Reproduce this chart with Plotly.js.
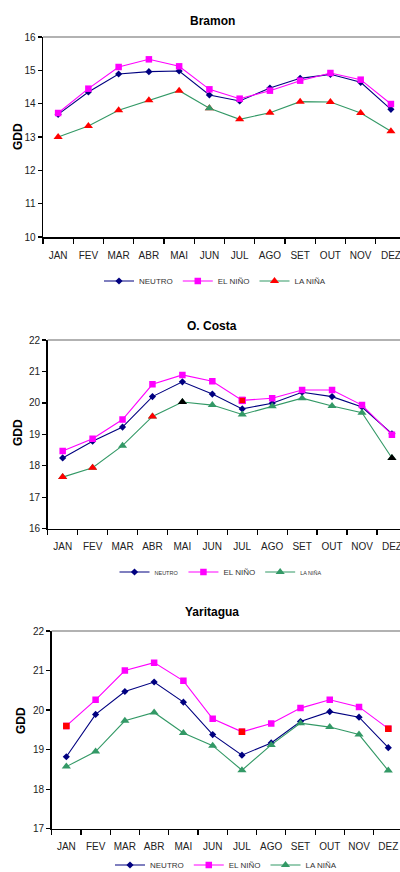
<!DOCTYPE html>
<html>
<head>
<meta charset="utf-8">
<script src="https://cdn.plot.ly/plotly-3.0.1.min.js"></script>
<style>html,body{margin:0;padding:0;background:#fff;overflow:hidden;}#chart{width:400px;height:884px;}</style>
</head>
<body>
<div id="chart"></div>
<script>
const months = ['JAN','FEV','MAR','ABR','MAI','JUN','JUL','AGO','SET','OUT','NOV','DEZ'];

const bramonNeutro = [13.68,14.35,14.89,14.96,14.98,14.26,14.08,14.47,14.76,14.88,14.64,13.83];
const bramonElNino = [13.72,14.45,15.10,15.33,15.12,14.43,14.15,14.39,14.69,14.92,14.72,13.99];
const bramonLaNina = [13.00,13.33,13.80,14.10,14.39,13.86,13.53,13.73,14.06,14.05,13.72,13.17];

const costaNeutro = [18.25,18.78,19.23,20.20,20.67,20.28,19.81,19.99,20.34,20.20,19.87,19.02];
const costaElNino = [18.47,18.86,19.47,20.59,20.89,20.69,20.08,20.15,20.41,20.41,19.93,18.99];
const costaLaNina = [17.64,17.94,18.64,19.57,20.03,19.93,19.63,19.89,20.15,19.90,19.69,18.25];

const yariNeutro = [18.82,19.89,20.47,20.71,20.20,19.38,18.86,19.17,19.71,19.96,19.82,19.05];
const yariElNino = [19.60,20.26,21.00,21.20,20.74,19.78,19.45,19.66,20.05,20.26,20.08,19.53];
const yariLaNina = [18.57,18.95,19.73,19.94,19.42,19.10,18.48,19.12,19.67,19.57,19.38,18.47];

const seriesNames = ['NEUTRO','EL NIÑO','LA NIÑA'];
const stationTitles = ['Bramon','O. Costa','Yaritagua'];

// point-level marker colour overrides (null = series colour)
const bramonLaNinaMark = [null,null,null,null,null,'#339966',null,null,null,null,null,null];
const costaElNinoMark  = [null,null,null,null,null,null,'#FF0000',null,null,null,null,null];
const costaLaNinaMark  = ['#FF0000','#FF0000',null,'#FF0000','#000000',null,null,null,null,null,null,'#000000'];
const yariElNinoMark   = ['#FF0000',null,null,null,null,null,'#FF0000',null,null,null,null,'#FF0000'];

const NAVY='#000080', MAG='#FF00FF', GREEN='#339966', RED='#FF0000';

const traces = [];
function addSeries(vals, name, ax, legend, lineColor, markerColor, symbol, size, overrideColors, lineOutline){
  traces.push({
    x: months, y: vals, name: name, type:'scatter', mode:'lines+markers',
    xaxis: 'x'+ax, yaxis: 'y'+ax, legend: legend,
    line: {color: lineColor, width: 1.1},
    marker: {symbol: symbol, size: size, color: markerColor, line:{width:0}},
    hoverinfo:'x+y'
  });
  if (overrideColors) {
    const yy = vals.map((v,i)=> overrideColors[i] ? v : null);
    const cc = overrideColors.map(c => c || markerColor);
    traces.push({
      x: months, y: yy, type:'scatter', mode:'markers', showlegend:false,
      xaxis: 'x'+ax, yaxis: 'y'+ax,
      marker: {symbol: symbol, size: size, color: cc, line:{width: lineOutline?1:0, color: lineOutline||markerColor}},
      hoverinfo:'x+y'
    });
  }
}
const small = n => '<span style="font-size:5.5px">'+n+'</span>';

addSeries(bramonNeutro, seriesNames[0], '', 'legend', NAVY, NAVY, 'diamond', 5.5);
addSeries(bramonElNino, seriesNames[1], '', 'legend', MAG, MAG, 'square', 6.5);
addSeries(bramonLaNina, seriesNames[2], '', 'legend', GREEN, RED, 'triangle-up', 8, bramonLaNinaMark);

addSeries(costaNeutro, small(seriesNames[0]), '2', 'legend2', NAVY, NAVY, 'diamond', 5.5);
addSeries(costaElNino, seriesNames[1], '2', 'legend2', MAG, MAG, 'square', 6.5, costaElNinoMark, MAG);
addSeries(costaLaNina, small(seriesNames[2]), '2', 'legend2', GREEN, GREEN, 'triangle-up', 8, costaLaNinaMark);

addSeries(yariNeutro, seriesNames[0], '3', 'legend3', NAVY, NAVY, 'diamond', 5.5);
addSeries(yariElNino, seriesNames[1], '3', 'legend3', MAG, MAG, 'square', 6.5, yariElNinoMark);
addSeries(yariLaNina, seriesNames[2], '3', 'legend3', GREEN, GREEN, 'triangle-up', 8);

const W=400, H=884;
const px = v => v/W, py = v => 1 - v/H;
const tickFont = {family:'Arial, Liberation Sans, sans-serif', size:10, color:'#222'};

function xax(left, rangeEnd, anchor){
  return {domain:[px(left),1], anchor:anchor, type:'category', range:[-0.5,rangeEnd],
    showline:true, linecolor:'#000', linewidth:1.5, ticks:'outside', ticklen:5, tickwidth:1.2, tickcolor:'#000',
    tickson:'boundaries', showgrid:false, zeroline:false, tickfont:tickFont, tickangle:0, ticklabelstandoff:8, fixedrange:true};
}
function yax(top, bottom, rng, anchor){
  return {domain:[py(bottom), py(top)], anchor:anchor, range:rng, dtick:1,
    showline:true, linecolor:'#000', linewidth:1.5, ticks:'outside', ticklen:4, tickwidth:1.2, tickcolor:'#000',
    showgrid:false, zeroline:false, tickfont:tickFont, fixedrange:true};
}
const legFont = {family:'Liberation Sans Narrow, Arial Narrow, Arial, sans-serif', size:8, color:'#333'};
function leg(cx, cy){
  return {orientation:'h', x:px(cx), y:py(cy), xanchor:'center', yanchor:'middle', font:legFont,
    bgcolor:'rgba(0,0,0,0)', itemwidth:30, tracegroupgap:0, traceorder:'normal'};
}
const titleFont = {family:'Arial, Liberation Sans, sans-serif', size:12, color:'#000', weight:'bold'};
const gddFont = {family:'Arial, Liberation Sans, sans-serif', size:12, color:'#000', weight:'bold'};

const layout = {
  width:W, height:H, margin:{l:0,r:0,t:0,b:0}, paper_bgcolor:'#fff', plot_bgcolor:'#fff', showlegend:true,
  xaxis: xax(43, 11.30, 'y'),
  yaxis: yax(37, 237, [10,16], 'x'),
  xaxis2: xax(47.7, 11.27, 'y2'),
  yaxis2: yax(340, 528.7, [16,22], 'x2'),
  xaxis3: xax(51.7, 11.40, 'y3'),
  yaxis3: yax(631, 828.7, [17,22], 'x3'),
  legend: leg(215, 281),
  legend2: leg(221, 572),
  legend3: leg(226, 865),
  annotations: [
    {text:'<b>'+stationTitles[0]+'</b>', x:px(212), y:py(21), xref:'paper', yref:'paper', showarrow:false, font:titleFont, xanchor:'center', yanchor:'middle'},
    {text:'<b>'+stationTitles[1]+'</b>', x:px(212), y:py(325.5), xref:'paper', yref:'paper', showarrow:false, font:titleFont, xanchor:'center', yanchor:'middle'},
    {text:'<b>'+stationTitles[2]+'</b>', x:px(212), y:py(612), xref:'paper', yref:'paper', showarrow:false, font:titleFont, xanchor:'center', yanchor:'middle'},
    {text:'<b>GDD</b>', x:px(18), y:py(137), xref:'paper', yref:'paper', showarrow:false, textangle:-90, font:gddFont, xanchor:'center', yanchor:'middle'},
    {text:'<b>GDD</b>', x:px(18), y:py(433), xref:'paper', yref:'paper', showarrow:false, textangle:-90, font:gddFont, xanchor:'center', yanchor:'middle'},
    {text:'<b>GDD</b>', x:px(21), y:py(721), xref:'paper', yref:'paper', showarrow:false, textangle:-90, font:gddFont, xanchor:'center', yanchor:'middle'}
  ],
  shapes: [
    {type:'line', xref:'x domain', yref:'y domain', x0:0, x1:1, y0:1, y1:1, line:{color:'#999', width:1.5}},
    {type:'line', xref:'x2 domain', yref:'y2 domain', x0:0, x1:1, y0:1, y1:1, line:{color:'#999', width:1.5}},
    {type:'line', xref:'x3 domain', yref:'y3 domain', x0:0, x1:1, y0:1, y1:1, line:{color:'#999', width:1.5}}
  ]
};
Plotly.newPlot('chart', traces, layout, {staticPlot:true, displayModeBar:false});
</script>
</body>
</html>
